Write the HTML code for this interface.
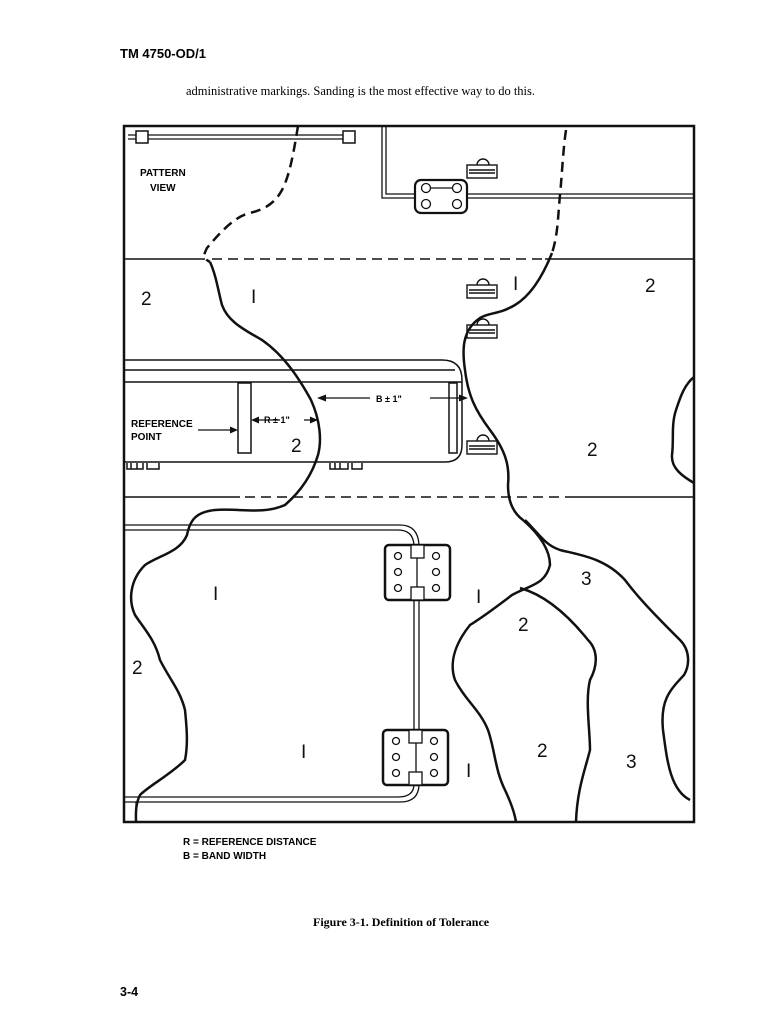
<!DOCTYPE html>
<html><head><meta charset="utf-8"><style>
body{margin:0;background:#fff;width:770px;height:1024px;overflow:hidden}
svg{position:absolute;left:0;top:0}
</style></head><body>
<svg width="770" height="1024" viewBox="0 0 770 1024" xmlns="http://www.w3.org/2000/svg" font-family="Liberation Sans, sans-serif">
<text x="120" y="58" font-size="13" font-weight="bold">TM 4750-OD/1</text>
<text x="186" y="95" font-size="12.5" font-family="Liberation Serif, serif">administrative markings. Sanding is the most effective way to do this.</text>
<text x="313" y="926" font-size="12" font-weight="bold" font-family="Liberation Serif, serif">Figure 3-1.  Definition of Tolerance</text>
<text x="120" y="996" font-size="12.5" font-weight="bold">3-4</text>

<g fill="none" stroke="#111">
<rect x="124" y="126" width="570" height="696" stroke-width="2.5"/>
<path d="M124 259H205M545 259H694" stroke-width="1.5"/>
<path d="M212 259H545" stroke-width="1.5" stroke-dasharray="10 6"/>
<path d="M124 497H240M565 497H694" stroke-width="1.5"/>
<path d="M245 497H565" stroke-width="1.5" stroke-dasharray="10 6"/>
<path d="M128 135H352M128 139H352" stroke-width="1.2"/>
<rect x="136" y="131" width="12" height="12" fill="#fff" stroke-width="1.5"/>
<rect x="343" y="131" width="12" height="12" fill="#fff" stroke-width="1.5"/>
<path d="M382 126V198H694M386 126V194H694" stroke-width="1.3"/>
<rect x="415" y="180" width="52" height="33" rx="6" fill="#fff" stroke-width="2.2"/>
<g stroke-width="1.3" fill="#fff">
<circle cx="426" cy="188" r="4.5"/><circle cx="457" cy="188" r="4.5"/>
<circle cx="426" cy="204" r="4.5"/><circle cx="457" cy="204" r="4.5"/>
<path d="M431 188H452"/>
</g>
<path d="M124 360H442Q462 360 462 380V445Q462 462 445 462H124" stroke-width="1.5"/>
<path d="M124 370H455M124 382H462" stroke-width="1.5"/>
<rect x="238" y="383" width="13" height="70" stroke-width="1.5"/>
<rect x="449" y="383" width="8" height="70" stroke-width="1.5"/>
<path d="M127 463v6h16v-6M131 463v6M137 463v6M147 463v6h12v-6M330 463v6h18v-6M335 463v6M340 463v6M352 463v6h10v-6" stroke-width="1.5"/>
<g stroke-width="1.4" fill="#fff">
<g transform="translate(467,158)"><path d="M10 7a6 6 0 0 1 12 0"/><rect x="0" y="7" width="30" height="13"/><path d="M2 12H28M2 15H28"/></g>
<g transform="translate(467,278)"><path d="M10 7a6 6 0 0 1 12 0"/><rect x="0" y="7" width="30" height="13"/><path d="M2 12H28M2 15H28"/></g>
<g transform="translate(467,318)"><path d="M10 7a6 6 0 0 1 12 0"/><rect x="0" y="7" width="30" height="13"/><path d="M2 12H28M2 15H28"/></g>
<g transform="translate(467,434)"><path d="M10 7a6 6 0 0 1 12 0"/><rect x="0" y="7" width="30" height="13"/><path d="M2 12H28M2 15H28"/></g>
</g>
<!-- bottom rail -->
<path d="M124 525H400Q418 525 419 545M124 530H398Q413 530 414 545" stroke-width="1.3"/>
<path d="M414 600V730M419 600V730" stroke-width="1.3"/>
<path d="M419 784Q419 802 400 802H124M414 784Q414 797 398 797H124" stroke-width="1.3"/>
<path d="M136 802V822" stroke-width="1.3"/>
<g stroke-width="2.5" fill="#fff">
<rect x="385" y="545" width="65" height="55" rx="4"/>
<rect x="383" y="730" width="65" height="55" rx="4"/>
</g>
<g stroke-width="1.3" fill="#fff">
<rect x="411" y="545" width="13" height="13"/><rect x="411" y="587" width="13" height="13"/>
<path d="M417 558V587M416 743V772"/>
<rect x="409" y="730" width="13" height="13"/><rect x="409" y="772" width="13" height="13"/>
<circle cx="398" cy="556" r="3.5"/><circle cx="398" cy="572" r="3.5"/><circle cx="398" cy="588" r="3.5"/>
<circle cx="436" cy="556" r="3.5"/><circle cx="436" cy="572" r="3.5"/><circle cx="436" cy="588" r="3.5"/>
<circle cx="396" cy="741" r="3.5"/><circle cx="396" cy="757" r="3.5"/><circle cx="396" cy="773" r="3.5"/>
<circle cx="434" cy="741" r="3.5"/><circle cx="434" cy="757" r="3.5"/><circle cx="434" cy="773" r="3.5"/>
</g>
<g stroke-width="2.5" stroke-linejoin="round">
<path d="M298 126C294 150 290 175 282 190C274 205 262 210 250 213C236 216 222 230 207 248C203 256 203 258 210 262" stroke-dasharray="10 6"/>
<path d="M210 262C216 275 218 290 222 305C228 322 245 330 262 340C285 356 300 380 311 400C320 420 322 440 318 455C312 475 300 492 285 505C262 515 240 508 215 510C196 512 190 520 187 535C180 552 160 555 145 565C130 580 128 600 135 615C145 630 155 640 160 660C170 680 180 690 185 710C187 730 188 745 185 760C170 775 150 785 140 795C135 805 136 815 136 822"/>
<path d="M566 130C563 150 562 175 560 195C558 215 558 235 552 253" stroke-dasharray="10 6"/>
<path d="M552 253C542 278 530 296 515 305C498 315 490 312 480 318C462 330 462 350 465 370C468 395 475 410 490 430C505 450 510 465 508 485C508 500 512 512 523 520C540 535 550 550 550 565C545 585 530 585 512 595C495 608 478 620 470 625C458 640 448 660 455 680C465 700 480 710 488 730C495 750 495 770 505 790C512 805 515 815 516 822"/>
<path d="M520 588C545 595 568 615 588 640C598 650 598 665 590 680C585 700 590 730 590 750C585 770 577 790 576 822"/>
<path d="M525 520C540 535 545 545 560 550C580 555 605 558 625 580C640 600 660 620 680 640C690 650 690 665 684 675C670 690 660 700 663 730C667 760 670 790 690 800"/>
<path d="M694 377C684 385 680 398 676 410C671 425 674 440 672 455C671 468 682 476 694 483"/>
</g>
<g stroke-width="1.3">
<path d="M198 430H232"/>
<path d="M258 420H280M304 420H315"/>
<path d="M322 398H370M430 398H462"/>
</g>
</g>
<g fill="#111">
<path d="M238 430l-8-3.5v7z"/>
<path d="M251 420l8-3.5v7zM318 420l-8-3.5v7z"/>
<path d="M317 398l9-3.5v7zM468 398l-9-3.5v7z"/>
</g>
<g font-size="10" font-weight="bold">
<text x="140" y="176">PATTERN</text><text x="150" y="191">VIEW</text>
<text x="131" y="427">REFERENCE</text><text x="131" y="440">POINT</text>
<text x="264" y="423" font-size="9">R ± 1"</text>
<text x="376" y="402" font-size="9">B ± 1"</text>
<text x="183" y="845">R = REFERENCE DISTANCE</text>
<text x="183" y="859">B = BAND WIDTH</text>
</g>
<g font-size="19" fill="#111" font-family="Liberation Sans, sans-serif" font-weight="300">
<text x="141" y="305">2</text><text x="251" y="303">I</text>
<text x="513" y="290">I</text><text x="645" y="292">2</text>
<text x="291" y="452">2</text><text x="587" y="456">2</text>
<text x="213" y="600">I</text><text x="476" y="603">I</text>
<text x="581" y="585">3</text><text x="518" y="631">2</text>
<text x="132" y="674">2</text><text x="301" y="758">I</text>
<text x="537" y="757">2</text><text x="466" y="777">I</text>
<text x="626" y="768">3</text>
</g>
</svg>
</body></html>
